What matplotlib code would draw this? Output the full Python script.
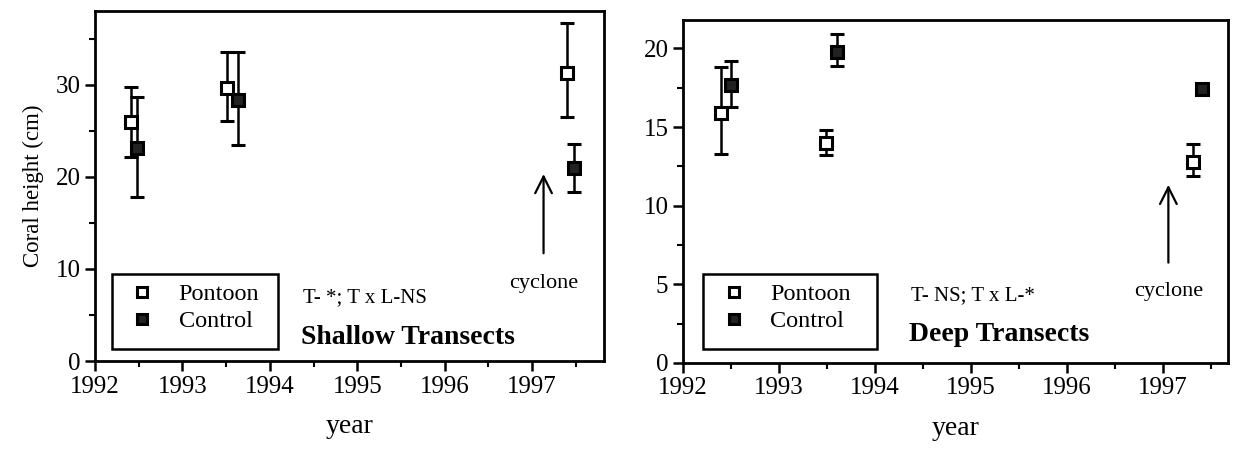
import matplotlib
matplotlib.use("Agg")
import matplotlib.pyplot as plt
from matplotlib.lines import Line2D
from matplotlib.patches import Rectangle
from matplotlib.ticker import MultipleLocator

plt.rcParams['font.family'] = ['Liberation Serif', 'DejaVu Serif']

# ---- data: shallow transects ----
sh_pont_x = [1992.41, 1993.51, 1997.40]
sh_pont_y = [25.9, 29.6, 31.3]
sh_pont_lo = [22.2, 26.1, 26.5]
sh_pont_hi = [29.7, 33.6, 36.7]
sh_ctrl_x = [1992.48, 1993.63, 1997.48]
sh_ctrl_y = [23.1, 28.3, 20.9]
sh_ctrl_lo = [17.8, 23.5, 18.4]
sh_ctrl_hi = [28.7, 33.6, 23.6]

# ---- data: deep transects ----
dp_pont_x = [1992.40, 1993.49, 1997.32]
dp_pont_y = [15.9, 14.0, 12.8]
dp_pont_lo = [13.3, 13.2, 11.9]
dp_pont_hi = [18.8, 14.8, 13.9]
dp_ctrl_x = [1992.50, 1993.60, 1997.41]
dp_ctrl_y = [17.7, 19.8, 17.4]
dp_ctrl_lo = [16.3, 18.9, 17.3]
dp_ctrl_hi = [19.2, 20.9, 17.6]

year_ticks = [1992, 1993, 1994, 1995, 1996, 1997]

fig = plt.figure(figsize=(12.41, 4.57), dpi=100)
ax1 = fig.add_axes([0.0766, 0.210, 0.410, 0.766])
ax2 = fig.add_axes([0.5504, 0.206, 0.439, 0.750])


def draw(ax, px, py, plo, phi, cx, cy, clo, chi, ylim, ymaj, ymin, xmax,
         stat, title, arrow_x, arrow_y0, arrow_y1, cyc_y, leg_rect, stat_y, title_y):
    perr = [[y - l for y, l in zip(py, plo)], [h - y for y, h in zip(py, phi)]]
    cerr = [[y - l for y, l in zip(cy, clo)], [h - y for y, h in zip(cy, chi)]]
    ax.errorbar(px, py, yerr=perr, fmt='s', ms=9, mfc='white', mec='black', mew=2.2,
                ecolor='black', elinewidth=1.8, capsize=5, capthick=1.8, zorder=3)
    ax.errorbar(cx, cy, yerr=cerr, fmt='s', ms=9, mfc='#222222', mec='black', mew=2.2,
                ecolor='black', elinewidth=1.8, capsize=5, capthick=1.8, zorder=3)
    ax.set_xlim(1992, xmax)
    ax.set_ylim(0, ylim)
    ax.set_xticks(year_ticks)
    ax.xaxis.set_minor_locator(MultipleLocator(0.5))
    ax.yaxis.set_major_locator(MultipleLocator(ymaj))
    ax.yaxis.set_minor_locator(MultipleLocator(ymin))
    ax.tick_params(which='major', direction='out', length=7, width=1.8, labelsize=18)
    ax.tick_params(which='minor', direction='out', length=4, width=1.5)
    for s in ax.spines.values():
        s.set_linewidth(2)
    ax.set_xlabel('year', fontsize=20, labelpad=12)
    # arrow
    ax.annotate('', xy=(arrow_x, arrow_y1), xytext=(arrow_x, arrow_y0),
                arrowprops=dict(arrowstyle='->', lw=1.6, color='black',
                                mutation_scale=30))
    ax.text(arrow_x, cyc_y, 'cyclone', fontsize=16, ha='center', va='center')
    ax.text(1994.38, stat_y, stat, fontsize=15, ha='left', va='center')
    ax.text(1994.36, title_y, title, fontsize=20, fontweight='bold', ha='left', va='center')
    # legend box
    x0, y0, w, h = leg_rect
    ax.add_patch(Rectangle((x0, y0), w, h, transform=ax.transAxes, fill=False,
                           lw=1.8, ec='black', zorder=4))
    handles = [Line2D([], [], ls='none', marker='s', ms=7, mfc='white', mec='black', mew=2.2),
               Line2D([], [], ls='none', marker='s', ms=7, mfc='#222222', mec='black', mew=2.2)]
    ax.legend(handles, ['Pontoon', 'Control'], loc='center left',
              bbox_to_anchor=(x0 + 0.035, y0 + h * 0.55), frameon=False, fontsize=17.5,
              handlelength=1.0, handletextpad=1.0, labelspacing=0.22, borderpad=0,
              borderaxespad=0)


draw(ax1, sh_pont_x, sh_pont_y, sh_pont_lo, sh_pont_hi,
     sh_ctrl_x, sh_ctrl_y, sh_ctrl_lo, sh_ctrl_hi,
     ylim=38, ymaj=10, ymin=5, xmax=1997.82,
     stat='T- *; T x L-NS', title='Shallow Transects',
     arrow_x=1997.13, arrow_y0=11.4, arrow_y1=20.6, cyc_y=8.45,
     leg_rect=(0.034, 0.033, 0.326, 0.217), stat_y=6.9, title_y=2.6)
ax1.set_ylabel('Coral height (cm)', fontsize=16.5, labelpad=8)

draw(ax2, dp_pont_x, dp_pont_y, dp_pont_lo, dp_pont_hi,
     dp_ctrl_x, dp_ctrl_y, dp_ctrl_lo, dp_ctrl_hi,
     ylim=21.8, ymaj=5, ymin=2.5, xmax=1997.68,
     stat='T- NS; T x L-*', title='Deep Transects',
     arrow_x=1997.06, arrow_y0=6.2, arrow_y1=11.5, cyc_y=4.55,
     leg_rect=(0.036, 0.041, 0.32, 0.218), stat_y=4.3, title_y=1.8)

fig.savefig('out.png', dpi=100)
